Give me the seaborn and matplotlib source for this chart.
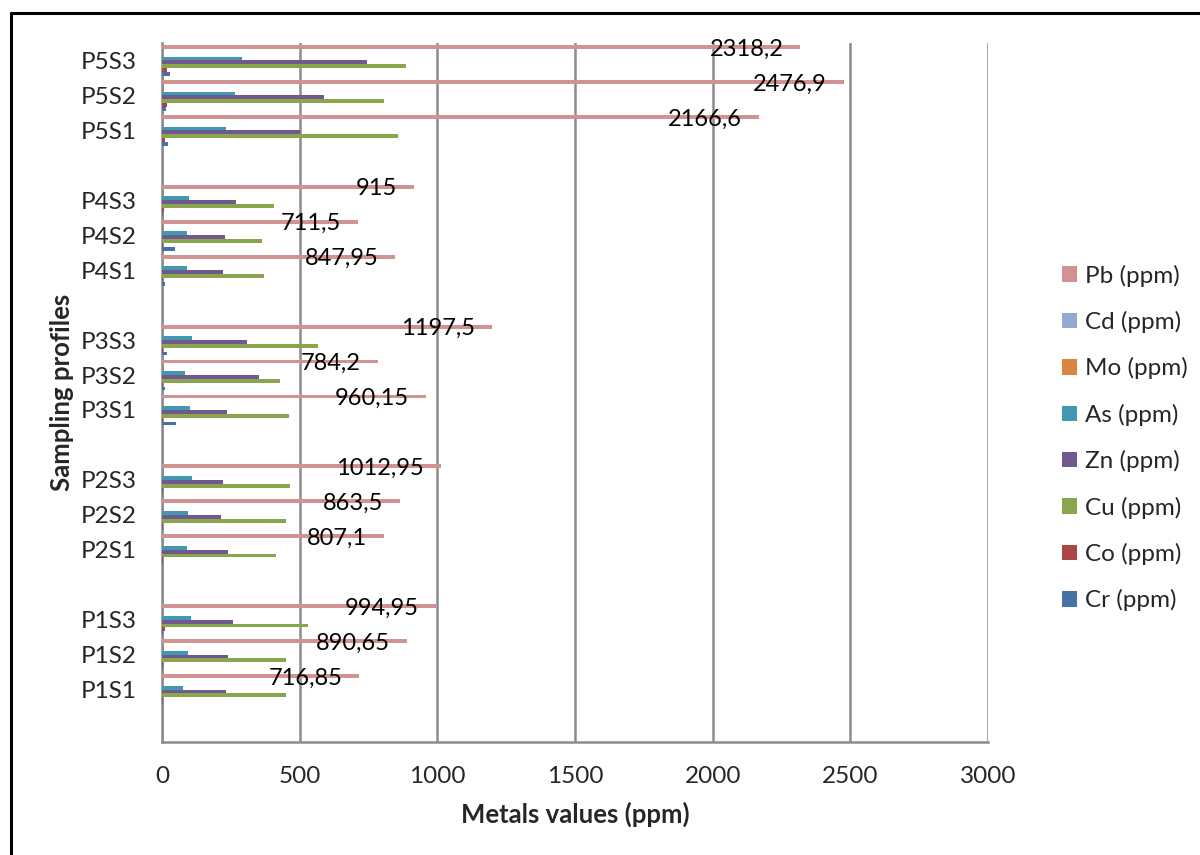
import numpy as np
import pandas as pd
import seaborn as sns
import matplotlib
matplotlib.use("Agg")
import matplotlib.pyplot as plt
from matplotlib.lines import Line2D

# ---------------- data ----------------
samples = ["P1S1", "P1S2", "P1S3", "P2S1", "P2S2", "P2S3", "P3S1", "P3S2",
           "P3S3", "P4S1", "P4S2", "P4S3", "P5S1", "P5S2", "P5S3"]
cr = [2, 2, 2, 5, 2, 2, 50, 10, 17, 11, 49, 2, 21, 13, 29]
co = [5, 5, 10, 5, 5, 5, 5, 5, 5, 2, 2, 6, 12, 17, 17]
cu = [449, 451, 532, 414, 451, 466, 460, 427, 566, 371, 363, 405, 858, 808, 888]
zn = [234, 240, 258, 241, 215, 220, 237, 354, 309, 220, 227, 270, 501, 589, 744]
as_ = [77, 95, 106, 89, 94, 109, 103, 84, 109, 90, 90, 97, 234, 266, 291]
mo = [1.5] * 15
cd = [1.0] * 15
pb = [716.85, 890.65, 994.95, 807.1, 863.5, 1012.95, 960.15, 784.2, 1197.5,
      847.95, 711.5, 915, 2166.6, 2476.9, 2318.2]
pb_labels = ["716,85", "890,65", "994,95", "807,1", "863,5", "1012,95", "960,15",
             "784,2", "1197,5", "847,95", "711,5", "915", "2166,6", "2476,9", "2318,2"]

metal_names = ["Pb (ppm)", "Cd (ppm)", "Mo (ppm)", "As (ppm)",
               "Zn (ppm)", "Cu (ppm)", "Co (ppm)", "Cr (ppm)"]
metal_values = [pb, cd, mo, as_, zn, cu, co, cr]
colors = ["#D19392", "#93A9CF", "#DB843D", "#4198AF",
          "#71588F", "#89A54E", "#AA4643", "#4572A7"]

# category order top -> bottom, with blank spacer slots between profiles
order = ["P5S3", "P5S2", "P5S1", " ",
         "P4S3", "P4S2", "P4S1", "  ",
         "P3S3", "P3S2", "P3S1", "   ",
         "P2S3", "P2S2", "P2S1", "    ",
         "P1S3", "P1S2", "P1S1", "     "]

rows = []
for name, vals in zip(metal_names, metal_values):
    for s, v in zip(samples, vals):
        rows.append({"sample": s, "metal": name, "value": v})
df = pd.DataFrame(rows)
label_map = dict(zip(samples, pb_labels))

# ---------------- style ----------------
sns.set_style("white")
plt.rcParams["font.family"] = ["Lato", "DejaVu Sans"]

fig = plt.figure(figsize=(12, 8.55), dpi=100)
ax = fig.add_axes([162 / 1200, 1 - 742 / 855, (988 - 162) / 1200, (742 - 43) / 855])

sns.barplot(data=df, y="sample", x="value", hue="metal", order=order,
            hue_order=metal_names, palette=colors, orient="h", width=0.88,
            saturation=1, errorbar=None, linewidth=0, ax=ax, zorder=3)

handles, labels = ax.get_legend_handles_labels()
if ax.get_legend() is not None:
    ax.get_legend().remove()

# Pb data labels
pb_bars = ax.containers[0]
for bar in pb_bars:
    w = bar.get_width()
    yc = bar.get_y() + bar.get_height() / 2
    cat = order[int(round(yc))]
    lab = label_map.get(cat)
    if lab is None:
        continue
    ax.annotate(lab, xy=(w, yc), xytext=(-17, -2), textcoords="offset pixels",
                ha="right", va="center", fontsize=17, color="black", zorder=5)

ax.set_xlim(0, 3000)
ax.set_xticks(np.arange(0, 3001, 500))
ax.set_xticklabels([str(v) for v in range(0, 3001, 500)])
ax.xaxis.grid(True, color="#8C8C8C", linewidth=1.8, zorder=0)
ax.yaxis.grid(False)
ax.set_axisbelow(True)

for side in ["top", "right"]:
    ax.spines[side].set_visible(False)
for side in ["left", "bottom"]:
    ax.spines[side].set_color("#8C8C8C")
    ax.spines[side].set_linewidth(1.8)

ax.tick_params(axis="y", length=0, pad=18, labelsize=17.5)
ax.tick_params(axis="x", length=0, pad=17, labelsize=17.5)

ax.set_xlabel("Metals values (ppm)", fontsize=18.5, fontweight="bold", labelpad=11)
ax.set_ylabel("Sampling profiles", fontsize=18.5, fontweight="bold", labelpad=5)

fig.legend(handles, labels, loc="center left", bbox_to_anchor=(1050 / 1200, 1 - 438 / 855),
           frameon=False, fontsize=17.5, labelspacing=1.0, handlelength=0.6,
           handleheight=0.6, handletextpad=0.35, borderpad=0)

# outer frame (left and top edges visible)
fig.add_artist(Line2D([10.5 / 1200, 10.5 / 1200], [0, 1 - 13.5 / 855],
                      transform=fig.transFigure, color="black", linewidth=2.2))
fig.add_artist(Line2D([10.5 / 1200, 1], [1 - 13.5 / 855, 1 - 13.5 / 855],
                      transform=fig.transFigure, color="black", linewidth=2.2))

fig.savefig("out.png", dpi=100, facecolor="white")
